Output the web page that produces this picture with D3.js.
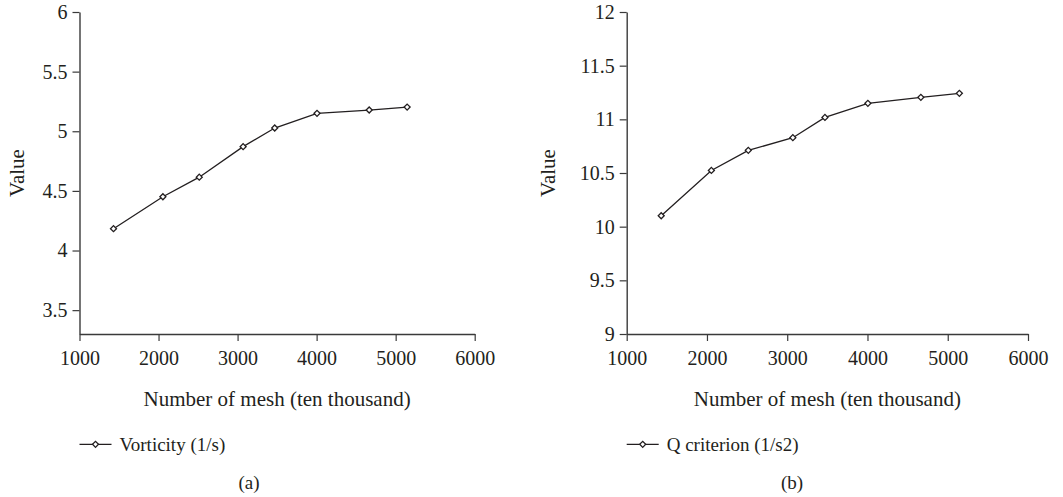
<!DOCTYPE html>
<html>
<head>
<meta charset="utf-8">
<script src="https://cdn.jsdelivr.net/npm/d3@7"></script>
<style>
  html, body { margin: 0; padding: 0; background: #fff; }
  svg text { font-family: "Liberation Serif", "Times New Roman", serif; fill: #231f20; }
</style>
</head>
<body>
<svg id="chart" width="1063" height="497"></svg>
<script>
// Mesh counts (ten thousand) used in the independence study
const meshCounts = [1430, 2055, 2515, 3070, 3470, 4005, 4665, 5145];
// Panel (a): vorticity, 1/s
const vorticity = [4.183, 4.451, 4.615, 4.871, 5.027, 5.150, 5.178, 5.203];
// Panel (b): Q criterion, 1/s2
const qCriterion = [10.102, 10.524, 10.711, 10.829, 11.018, 11.149, 11.205, 11.242];

const xTicks = [1000, 2000, 3000, 4000, 5000, 6000];
const yTicksA = [3.5, 4, 4.5, 5, 5.5, 6];
const yTicksB = [9, 9.5, 10, 10.5, 11, 11.5, 12];

const panels = [
  { values: vorticity, yDomain: [3.3, 6], yTicks: yTicksA, left: 79.5, right: 474.7,
    legend: "Vorticity (1/s)", caption: "(a)", captionX: 249, yTitleX: 17 },
  { values: qCriterion, yDomain: [9, 12], yTicks: yTicksB, left: 626.7, right: 1028,
    legend: "Q criterion (1/s2)", caption: "(b)", captionX: 792, yTitleX: 548 }
];

const svg = d3.select("#chart");
const plotTop = 12, plotBottom = 334;
const ink = "#231f20", axisInk = "#3a3a3a";
const serif = "'Liberation Serif', 'Times New Roman', serif";

// square marker turned 45 degrees
const marker = d3.symbol().type(d3.symbolSquare).size(18);

panels.forEach(p => {
  const x = d3.scaleLinear().domain([1000, 6000]).range([p.left, p.right]);
  const y = d3.scaleLinear().domain(p.yDomain).range([plotBottom, plotTop]);
  const g = svg.append("g");

  // y axis
  const yAxis = g.append("g")
    .attr("transform", `translate(${p.left},0)`)
    .call(d3.axisLeft(y).tickValues(p.yTicks).tickSize(7).tickSizeOuter(0).tickPadding(5)
      .tickFormat(d3.format("")));
  // x axis
  const xAxis = g.append("g")
    .attr("transform", `translate(0,${plotBottom})`)
    .call(d3.axisBottom(x).tickValues(xTicks).tickSize(7).tickSizeOuter(0).tickPadding(10)
      .tickFormat(d3.format("d")));

  [yAxis, xAxis].forEach(a => {
    a.attr("font-family", serif).attr("font-size", 20);
    a.select(".domain").attr("stroke", axisInk).attr("stroke-width", 1.4);
    a.selectAll(".tick line").attr("stroke", axisInk).attr("stroke-width", 1.2);
    a.selectAll(".tick text").attr("fill", ink);
  });

  // axis titles
  g.append("text")
    .attr("x", (p.left + p.right) / 2).attr("y", 399)
    .attr("text-anchor", "middle").attr("dominant-baseline", "central")
    .style("font-size", "21px")
    .text("Number of mesh (ten thousand)");
  g.append("text")
    .attr("transform", `translate(${p.yTitleX},173) rotate(-90)`)
    .attr("text-anchor", "middle").attr("dominant-baseline", "central")
    .style("font-size", "21px")
    .text("Value");

  // series line and markers
  const pts = meshCounts.map((m, i) => [m, p.values[i]]);
  g.append("path")
    .datum(pts)
    .attr("fill", "none").attr("stroke", ink).attr("stroke-width", 1.3)
    .attr("d", d3.line().x(d => x(d[0])).y(d => y(d[1])));
  g.selectAll("path.pt").data(pts).join("path")
    .attr("class", "pt")
    .attr("transform", d => `translate(${x(d[0])},${y(d[1])}) rotate(45)`)
    .attr("d", marker)
    .attr("fill", "#fff").attr("stroke", ink).attr("stroke-width", 1.3);

  // legend
  const ly = 444.3;
  g.append("line")
    .attr("x1", p.left).attr("x2", p.left + 32).attr("y1", ly).attr("y2", ly)
    .attr("stroke", ink).attr("stroke-width", 1.3);
  g.append("path")
    .attr("transform", `translate(${p.left + 16},${ly}) rotate(45)`)
    .attr("d", marker)
    .attr("fill", "#fff").attr("stroke", ink).attr("stroke-width", 1.3);
  g.append("text")
    .attr("x", p.left + 40).attr("y", ly)
    .attr("dominant-baseline", "central")
    .style("font-size", "19px")
    .text(p.legend);

  // panel caption
  g.append("text")
    .attr("x", p.captionX).attr("y", 482)
    .attr("text-anchor", "middle").attr("dominant-baseline", "central")
    .style("font-size", "19px")
    .text(p.caption);
});
</script>
</body>
</html>
